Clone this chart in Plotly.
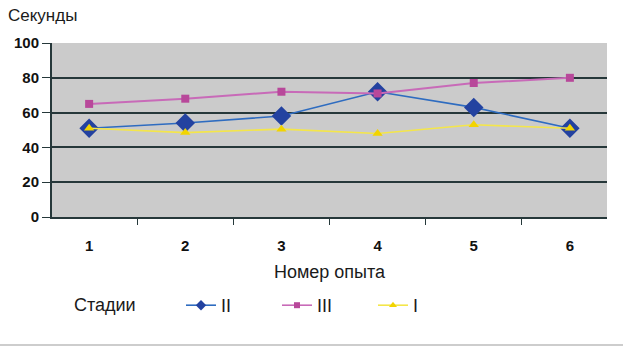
import plotly.graph_objects as go

# Experiment numbers and measured durations (seconds) per stage
experiments = ["1", "2", "3", "4", "5", "6"]
stage_ii = [51, 54, 58, 72, 63, 51]
stage_iii = [65, 68, 72, 71, 77, 80]
stage_i = [51, 48.5, 50.5, 48, 53, 51]
y_ticks = [0, 20, 40, 60, 80, 100]

FONT = "Liberation Sans, Arial, sans-serif"
GRID = "#26383a"
TEXT = "#1a1a1a"

# name, values, line colour, marker colour, symbol, plot marker size, key marker size
series = [
    ("II", stage_ii, "#2e6cc0", "#2342a0", "diamond", 15, 8),
    ("III", stage_iii, "#c86ab8", "#b8489a", "square", 8, 6),
    ("I", stage_i, "#f4e64a", "#f2d400", "triangle-up", 9, 7),
]

fig = go.Figure()
for name, vals, lc, mc, sym, size, _ in series:
    fig.add_trace(go.Scatter(
        x=experiments, y=vals, name=name, mode="lines+markers",
        line=dict(color=lc, width=1.6 if name != "III" else 2),
        marker=dict(symbol=sym, size=size, color=mc),
        showlegend=False,
    ))
# Legend keys use smaller markers than the plotted points
for name, _, lc, mc, sym, _, ksize in series:
    fig.add_trace(go.Scatter(
        x=[None], y=[None], name=name, mode="lines+markers",
        line=dict(color=lc, width=1.6),
        marker=dict(symbol=sym, size=ksize, color=mc),
        showlegend=True,
    ))

fig.update_layout(
    width=623, height=347,
    margin=dict(l=52, r=16, t=43, b=130, autoexpand=False),
    paper_bgcolor="white",
    plot_bgcolor="#cbcbcb",
    font=dict(family=FONT, color=TEXT),
    title=dict(text="Секунды", font=dict(size=17, family=FONT, color=TEXT),
               xref="container", x=8 / 623, xanchor="left",
               yref="container", y=1 - 15 / 347, yanchor="middle"),
    showlegend=True,
    legend=dict(orientation="h", xref="container", yref="container",
                x=181 / 623, y=1 - 287 / 347, xanchor="left", yanchor="top",
                font=dict(size=18, family=FONT, color=TEXT),
                entrywidth=51, bgcolor="rgba(0,0,0,0)"),
    xaxis=dict(type="category", tickson="boundaries", ticks="outside",
               ticklen=6, tickcolor=GRID, showline=True, linecolor=GRID,
               linewidth=2, showgrid=False, ticklabelstandoff=14,
               tickfont=dict(size=15, family=FONT, weight="bold", color="#111111"),
               title=dict(text="Номер опыта", font=dict(size=18, family=FONT, color=TEXT),
                          standoff=12)),
    yaxis=dict(range=[0, 100], tickvals=y_ticks, ticks="outside", ticklen=8,
               tickcolor=GRID, showline=True, linecolor=GRID, linewidth=2,
               gridcolor=GRID, gridwidth=1.5, zeroline=False,
               tickfont=dict(size=15, family=FONT, weight="bold", color="#111111")),
)

fig.add_annotation(text="Стадии", xref="paper", yref="paper",
                   x=(72 - 52) / 555, y=-(305 - 217) / 174,
                   xanchor="left", yanchor="middle", showarrow=False,
                   font=dict(size=18, family=FONT, color=TEXT))

# Thin rule along the bottom edge
fig.add_shape(type="line", xref="paper", yref="paper",
              x0=-52 / 555, x1=(623 - 52) / 555,
              y0=-(345 - 217) / 174, y1=-(345 - 217) / 174,
              line=dict(color="#bdbdbd", width=1.5))

fig.write_html("out.html")
